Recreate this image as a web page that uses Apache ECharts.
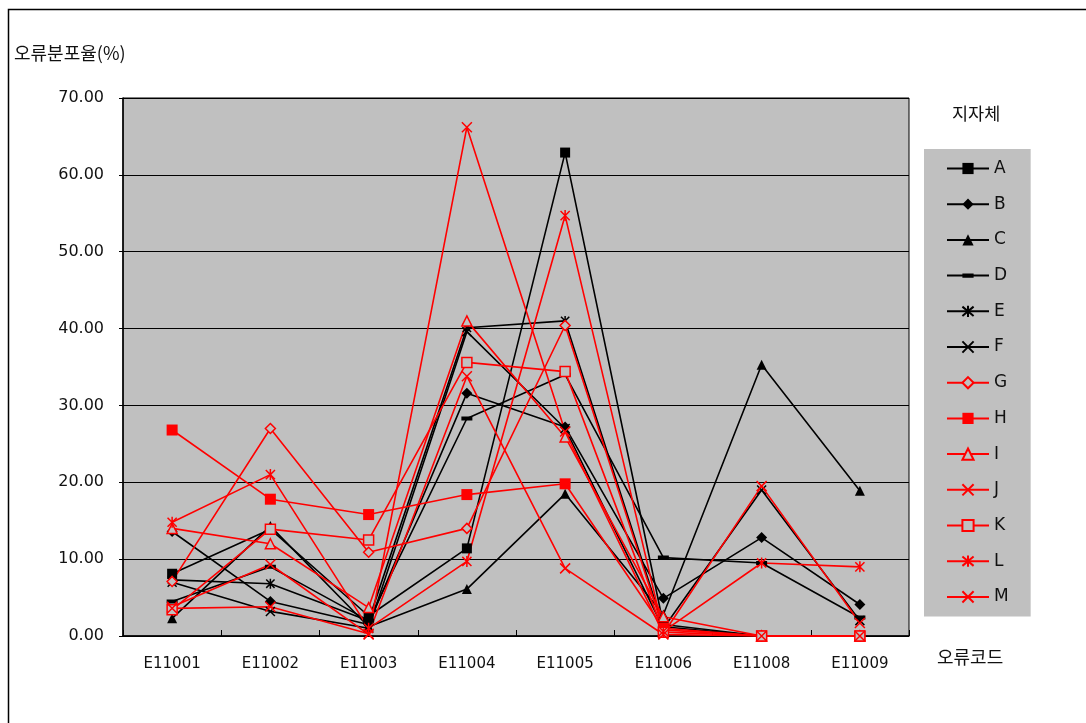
<!DOCTYPE html>
<html>
<head>
<meta charset="utf-8">
<script src="https://cdn.jsdelivr.net/npm/echarts@6/dist/echarts.min.js"></script>
<style>
  html, body { margin: 0; padding: 0; background: #fff; }
  #chart { width: 1086px; height: 723px; }
</style>
</head>
<body>
<div id="chart"></div>
<script>
// Error codes on the x axis
const categories = ['E11001', 'E11002', 'E11003', 'E11004', 'E11005', 'E11006', 'E11008', 'E11009'];

// Error distribution rate (%) per local government
const seriesA = [8.1, 13.9, 2.6, 11.4, 62.9, 1.5, 0, 0];
const seriesB = [13.6, 4.5, 1.5, 31.6, 27.2, 4.9, 12.8, 4.1];
const seriesC = [2.3, 14.3, 1.2, 6.1, 18.5, 2.8, 35.3, 18.9];
const seriesD = [4.5, 9.0, 2.0, 28.3, 34.0, 10.2, 9.5, 2.4];
const seriesE = [7.3, 6.8, 2.0, 40.1, 41.0, 1.2, 0, 0];
const seriesF = [7.0, 3.2, 1.0, 39.6, 27.0, 1.0, 19.0, 2.0];
const seriesG = [7.1, 27.0, 10.9, 14.0, 40.4, 0.8, 0, 0];
const seriesH = [26.8, 17.8, 15.8, 18.4, 19.8, 1.0, 0, 0];
const seriesI = [14.0, 12.0, 3.7, 41.0, 25.9, 2.5, 0, 0];
const seriesJ = [3.8, 9.3, 0.2, 66.2, 26.6, 0.3, 19.5, 1.7];
const seriesK = [3.4, 13.9, 12.5, 35.6, 34.4, 0.5, 0, 0];
const seriesL = [14.8, 21.0, 1.0, 9.7, 54.7, 0.6, 9.5, 9.0];
const seriesM = [3.6, 3.8, 0.3, 33.8, 8.8, 0.2, 0, 0];

// Y tick range
const yMin = 0;
const yMax = 70;
const yStep = 10;

const BLACK = '#000000';
const RED = '#ff0000';
const PLOT_BG = '#c0c0c0';
const FONT = '"DejaVu Sans", "Noto Sans CJK KR", sans-serif';
const KFONT = '"Noto Sans CJK KR", sans-serif';

const ASTERISK = 'path://M0,0L10,10M10,0L0,10M5,-1L5,11';
const CROSS = 'path://M0,0L10,10M10,0L0,10';
// a flat bar centred in a square box (the zero-area edges only set the box)
const DASH = 'path://M0,0L11,0L11,0ZM0,11L11,11L11,11ZM0,3.5H11V7.5H0Z';

// marker styles: [name, data, colour, symbol, size, hollow]
const defs = [
  ['A', seriesA, BLACK, 'rect', 10, false],
  ['B', seriesB, BLACK, 'diamond', 11, false],
  ['C', seriesC, BLACK, 'triangle', 10, false],
  ['D', seriesD, BLACK, DASH, 11, false],
  ['E', seriesE, BLACK, ASTERISK, 10, false],
  ['F', seriesF, BLACK, CROSS, 9, false],
  ['G', seriesG, RED, 'diamond', 10, true],
  ['H', seriesH, RED, 'rect', 11, false],
  ['I', seriesI, RED, 'triangle', 10, true],
  ['J', seriesJ, RED, CROSS, 10, false],
  ['K', seriesK, RED, 'rect', 10, true],
  ['L', seriesL, RED, ASTERISK, 11, false],
  ['M', seriesM, RED, CROSS, 10, false]
];

const series = defs.map(([name, data, color, symbol, size, hollow]) => ({
  name: name,
  type: 'line',
  data: data,
  symbol: symbol,
  symbolSize: size,
  symbolKeepAspect: true,
  showAllSymbol: true,
  animation: false,
  lineStyle: { color: color, width: 1.6 },
  itemStyle: {
    color: hollow ? PLOT_BG : color,
    borderColor: color,
    borderWidth: (symbol === ASTERISK || symbol === CROSS || hollow) ? 1.5 : 0
  },
  emphasis: { disabled: true }
}));

const chart = echarts.init(document.getElementById('chart'), null, { renderer: 'canvas' });
chart.setOption({
  backgroundColor: '#ffffff',
  animation: false,
  grid: {
    left: 123, top: 98, width: 786, height: 538,
    show: true, backgroundColor: PLOT_BG, borderColor: BLACK, borderWidth: 1
  },
  xAxis: {
    type: 'category',
    data: categories,
    boundaryGap: true,
    axisLine: { lineStyle: { color: BLACK, width: 1.5 } },
    axisTick: { show: true, inside: true, length: 6, lineStyle: { color: BLACK } },
    axisLabel: { color: '#111', fontSize: 15, fontFamily: FONT, margin: 21 },
    splitLine: { show: false }
  },
  yAxis: {
    type: 'value',
    min: yMin, max: yMax, interval: yStep,
    axisLine: { show: true, lineStyle: { color: BLACK, width: 1.5 } },
    axisTick: { show: true, length: 4, lineStyle: { color: BLACK } },
    axisLabel: {
      color: '#111', fontSize: 16, fontFamily: FONT, margin: 19,
      formatter: v => v.toFixed(2)
    },
    splitLine: { show: true, lineStyle: { color: BLACK, width: 1 } }
  },
  legend: {
    orient: 'vertical',
    left: 924, top: 149,
    backgroundColor: PLOT_BG,
    padding: [11, 22, 11, 22],
    itemWidth: 42, itemHeight: 14, itemGap: 18.7,
    textStyle: { color: '#111', fontSize: 17, fontFamily: FONT },
    data: defs.map(d => d[0])
  },
  graphic: [
    {
      type: 'rect', silent: true, z: -1,
      shape: { x: 8.5, y: 9.5, width: 1100, height: 730 },
      style: { fill: 'none', stroke: BLACK, lineWidth: 1.5 }
    },
    {
      type: 'text', left: 14, top: 44,
      style: { text: '오류분포율(%)', fill: '#111', font: '18px ' + KFONT }
    },
    {
      type: 'text', left: 952, top: 105,
      style: { text: '지자체', fill: '#111', font: '17.5px ' + KFONT }
    },
    {
      type: 'text', left: 937, top: 648,
      style: { text: '오류코드', fill: '#111', font: '18px ' + KFONT }
    }
  ],
  series: series
});
</script>
</body>
</html>
